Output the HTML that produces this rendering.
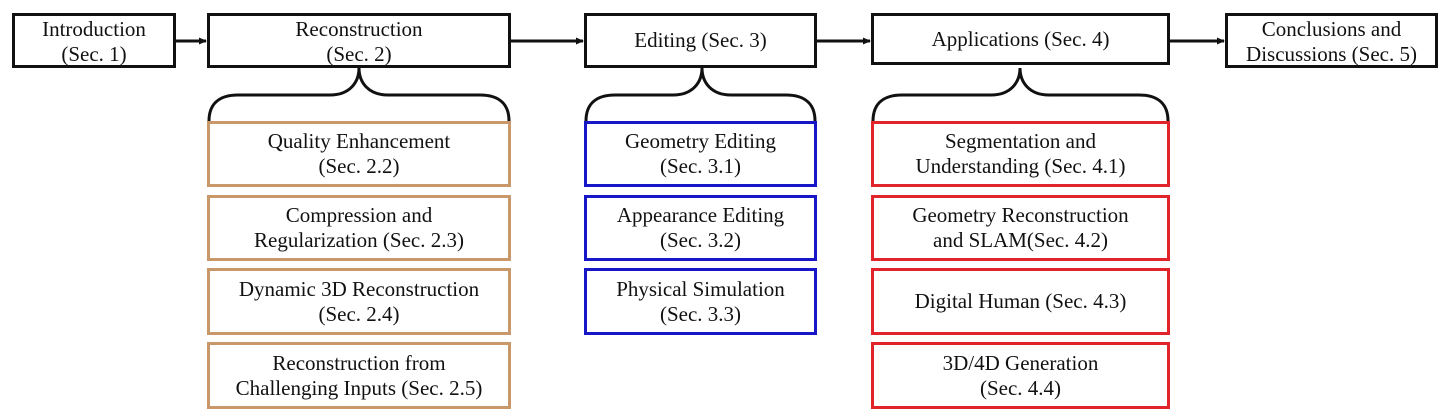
<!DOCTYPE html>
<html><head><meta charset="utf-8"><style>
html,body{margin:0;padding:0;background:#fff;}
body{width:1448px;height:416px;position:relative;overflow:hidden;font-family:"Liberation Serif",serif;color:#111;}
.b{position:absolute;box-sizing:border-box;display:flex;align-items:center;justify-content:center;text-align:center;font-size:21px;line-height:25px;white-space:nowrap;background:#fff;}
.k{border:3px solid #111;}
.t{border:3px solid #c8976a;}
.u{border:3px solid #1717c8;}
.r{border:3px solid #e0242a;}
svg{position:absolute;left:0;top:0;}
</style></head><body>
<svg width="1448" height="416">
<defs><marker id="a" markerWidth="8" markerHeight="8" refX="7" refY="4" orient="auto" markerUnits="userSpaceOnUse"><path d="M0,0.5 L8,4 L0,7.5z" fill="#111"/></marker></defs>
<g stroke="#111" stroke-width="3" fill="none">
<line x1="175" y1="41" x2="206" y2="41" marker-end="url(#a)"/>
<line x1="510" y1="41" x2="583" y2="41" marker-end="url(#a)"/>
<line x1="816" y1="41" x2="870" y2="41" marker-end="url(#a)"/>
<line x1="1169" y1="41" x2="1224" y2="41" marker-end="url(#a)"/>
<path d="M359,68 C359,82 350,95 330,95 L238,95 C218,95 209,105 209,121 M359,68 C359,82 368,95 388,95 L480,95 C500,95 509,105 509,121"/>
<path d="M702,68 C702,82 693,95 673,95 L615,95 C595,95 586,105 586,121 M702,68 C702,82 711,95 731,95 L786,95 C806,95 815,105 815,121"/>
<path d="M1020,68 C1020,82 1011,95 991,95 L902,95 C882,95 873,105 873,121 M1020,68 C1020,82 1029,95 1049,95 L1139,95 C1159,95 1168,105 1168,121"/>
</g>
</svg>
<div class="b k" style="left:12px;top:13px;width:164px;height:55px;padding-top:2px">Introduction<br>(Sec. 1)</div>
<div class="b k" style="left:207px;top:13px;width:304px;height:55px;padding-top:2px">Reconstruction<br>(Sec. 2)</div>
<div class="b k" style="left:584px;top:13px;width:233px;height:55px">Editing (Sec. 3)</div>
<div class="b k" style="left:871px;top:13px;width:299px;height:52px">Applications (Sec. 4)</div>
<div class="b k" style="left:1225px;top:13px;width:213px;height:55px;padding-top:2px">Conclusions and<br>Discussions (Sec. 5)</div>

<div class="b t" style="left:207px;top:121px;width:304px;height:66px">Quality Enhancement<br>(Sec. 2.2)</div>
<div class="b t" style="left:207px;top:195px;width:304px;height:66px">Compression and<br>Regularization (Sec. 2.3)</div>
<div class="b t" style="left:207px;top:268px;width:304px;height:67px">Dynamic 3D Reconstruction<br>(Sec. 2.4)</div>
<div class="b t" style="left:207px;top:342px;width:304px;height:67px">Reconstruction from<br>Challenging Inputs (Sec. 2.5)</div>

<div class="b u" style="left:584px;top:121px;width:233px;height:66px">Geometry Editing<br>(Sec. 3.1)</div>
<div class="b u" style="left:584px;top:195px;width:233px;height:66px">Appearance Editing<br>(Sec. 3.2)</div>
<div class="b u" style="left:584px;top:268px;width:233px;height:67px">Physical Simulation<br>(Sec. 3.3)</div>

<div class="b r" style="left:871px;top:121px;width:299px;height:66px">Segmentation and<br>Understanding (Sec. 4.1)</div>
<div class="b r" style="left:871px;top:195px;width:299px;height:66px">Geometry Reconstruction<br>and SLAM(Sec. 4.2)</div>
<div class="b r" style="left:871px;top:268px;width:299px;height:67px">Digital Human (Sec. 4.3)</div>
<div class="b r" style="left:871px;top:342px;width:299px;height:67px">3D/4D Generation<br>(Sec. 4.4)</div>
</body></html>
